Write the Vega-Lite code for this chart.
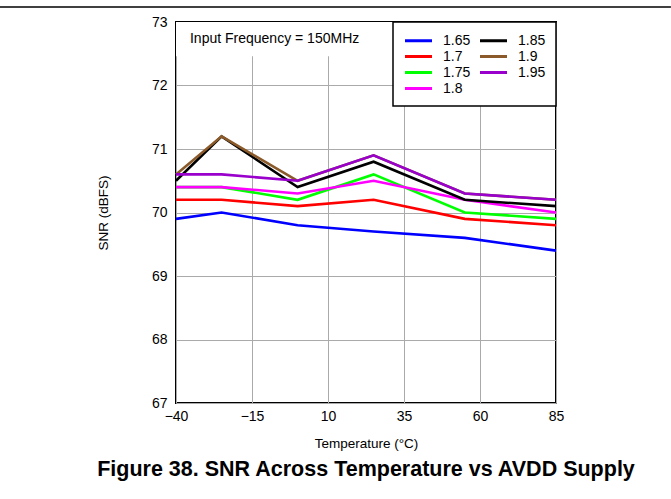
{
  "$schema": "https://vega.github.io/schema/vega-lite/v6.json",
  "autosize": {"type": "none"},
  "width": 380,
  "height": 381,
  "padding": {"left": 176, "top": 22, "right": 115, "bottom": 96},
  "background": "white",
  "title": {
    "text": "Figure 38. SNR Across Temperature vs AVDD Supply",
    "orient": "bottom",
    "anchor": "middle",
    "font": "Liberation Sans",
    "fontSize": 21.5,
    "fontWeight": "bold",
    "color": "black",
    "offset": 9
  },
  "config": {
    "view": {"stroke": "black", "strokeWidth": 2},
    "font": "Liberation Sans",
    "axis": {
      "labelFont": "Liberation Sans",
      "titleFont": "Liberation Sans",
      "labelFontSize": 14,
      "titleFontSize": 13.5,
      "titleFontWeight": "normal",
      "labelColor": "black",
      "titleColor": "black",
      "domain": false,
      "ticks": false,
      "grid": true,
      "gridColor": "#aaaaaa",
      "gridWidth": 1
    }
  },
  "datasets": {
    "snr": [
      {"t": -40, "snr": 69.9, "s": "1.65"}, {"t": -25, "snr": 70.0, "s": "1.65"}, {"t": 0, "snr": 69.8, "s": "1.65"}, {"t": 25, "snr": 69.7, "s": "1.65"}, {"t": 55, "snr": 69.6, "s": "1.65"}, {"t": 85, "snr": 69.4, "s": "1.65"},
      {"t": -40, "snr": 70.2, "s": "1.7"}, {"t": -25, "snr": 70.2, "s": "1.7"}, {"t": 0, "snr": 70.1, "s": "1.7"}, {"t": 25, "snr": 70.2, "s": "1.7"}, {"t": 55, "snr": 69.9, "s": "1.7"}, {"t": 85, "snr": 69.8, "s": "1.7"},
      {"t": -40, "snr": 70.4, "s": "1.75"}, {"t": -25, "snr": 70.4, "s": "1.75"}, {"t": 0, "snr": 70.2, "s": "1.75"}, {"t": 25, "snr": 70.6, "s": "1.75"}, {"t": 55, "snr": 70.0, "s": "1.75"}, {"t": 85, "snr": 69.9, "s": "1.75"},
      {"t": -40, "snr": 70.4, "s": "1.8"}, {"t": -25, "snr": 70.4, "s": "1.8"}, {"t": 0, "snr": 70.3, "s": "1.8"}, {"t": 25, "snr": 70.5, "s": "1.8"}, {"t": 55, "snr": 70.2, "s": "1.8"}, {"t": 85, "snr": 70.0, "s": "1.8"},
      {"t": -40, "snr": 70.5, "s": "1.85"}, {"t": -25, "snr": 71.2, "s": "1.85"}, {"t": 0, "snr": 70.4, "s": "1.85"}, {"t": 25, "snr": 70.8, "s": "1.85"}, {"t": 55, "snr": 70.2, "s": "1.85"}, {"t": 85, "snr": 70.1, "s": "1.85"},
      {"t": -40, "snr": 70.6, "s": "1.9"}, {"t": -25, "snr": 71.2, "s": "1.9"}, {"t": 0, "snr": 70.5, "s": "1.9"}, {"t": 25, "snr": 70.9, "s": "1.9"}, {"t": 55, "snr": 70.3, "s": "1.9"}, {"t": 85, "snr": 70.2, "s": "1.9"},
      {"t": -40, "snr": 70.6, "s": "1.95"}, {"t": -25, "snr": 70.6, "s": "1.95"}, {"t": 0, "snr": 70.5, "s": "1.95"}, {"t": 25, "snr": 70.9, "s": "1.95"}, {"t": 55, "snr": 70.3, "s": "1.95"}, {"t": 85, "snr": 70.2, "s": "1.95"}
    ],
    "note": [
      {"x": -40, "x2": 31.7, "y": 73, "y2": 72.46, "tx": -35.4, "ty": 72.73, "label": "Input Frequency = 150MHz"}
    ],
    "topline": [
      {"x": -97.9, "x2": 122.8, "y": 73.236}
    ]
  },
  "layer": [
    {
      "data": {"name": "note"},
      "mark": {"type": "rect", "fill": "white", "stroke": null},
      "encoding": {
        "x": {"field": "x", "type": "quantitative", "scale": {"domain": [-40, 85]}},
        "x2": {"field": "x2"},
        "y": {"field": "y", "type": "quantitative", "scale": {"domain": [67, 73]}},
        "y2": {"field": "y2"}
      }
    },
    {
      "data": {"name": "snr"},
      "mark": {"type": "line", "strokeWidth": 2.6},
      "encoding": {
        "x": {
          "field": "t", "type": "quantitative",
          "scale": {"domain": [-40, 85], "nice": false, "zero": false},
          "axis": {"values": [-40, -15, 10, 35, 60, 85], "title": "Temperature (°C)", "labelPadding": 6, "titlePadding": 13,
                   "labelFlush": false,
                   "labelExpr": "replace(datum.label, '-', '\u2013')"}
        },
        "y": {
          "field": "snr", "type": "quantitative",
          "scale": {"domain": [67, 73], "nice": false, "zero": false},
          "axis": {"values": [67, 68, 69, 70, 71, 72, 73], "format": "d", "title": "SNR (dBFS)", "labelPadding": 9, "titlePadding": 41, "labelFlush": false}
        },
        "color": {
          "field": "s", "type": "nominal",
          "scale": {
            "domain": ["1.65", "1.7", "1.75", "1.8", "1.85", "1.9", "1.95"],
            "range": ["#0000ff", "#ff0000", "#00ff00", "#ff00ff", "#000000", "#8b5a2b", "#9900cc"]
          },
          "legend": {
            "title": null,
            "orient": "top-right",
            "offset": 0,
            "columns": 2,
            "symbolType": "M-2,0H2",
            "symbolSize": 182,
            "symbolStrokeWidth": 3,
            "symbolOffset": 7,
            "labelFont": "Liberation Sans",
            "labelFontSize": 14,
            "labelColor": "black",
            "labelOffset": 16,
            "columnPadding": 3,
            "rowPadding": 0,
            "padding": 10,
            "strokeColor": "black",
            "fillColor": "white",
            "encode": {"legend": {"update": {"strokeWidth": {"value": 1.5}}}}
          }
        }
      }
    },
    {
      "data": {"name": "note"},
      "mark": {"type": "text", "align": "left", "baseline": "middle", "font": "Liberation Sans", "fontSize": 14, "color": "black"},
      "encoding": {
        "x": {"field": "tx", "type": "quantitative"},
        "y": {"field": "ty", "type": "quantitative"},
        "text": {"field": "label"}
      }
    },
    {
      "data": {"name": "topline"},
      "mark": {"type": "rule", "color": "black", "strokeWidth": 1.5, "clip": false},
      "encoding": {
        "x": {"field": "x", "type": "quantitative"},
        "x2": {"field": "x2"},
        "y": {"field": "y", "type": "quantitative"}
      }
    }
  ]
}
